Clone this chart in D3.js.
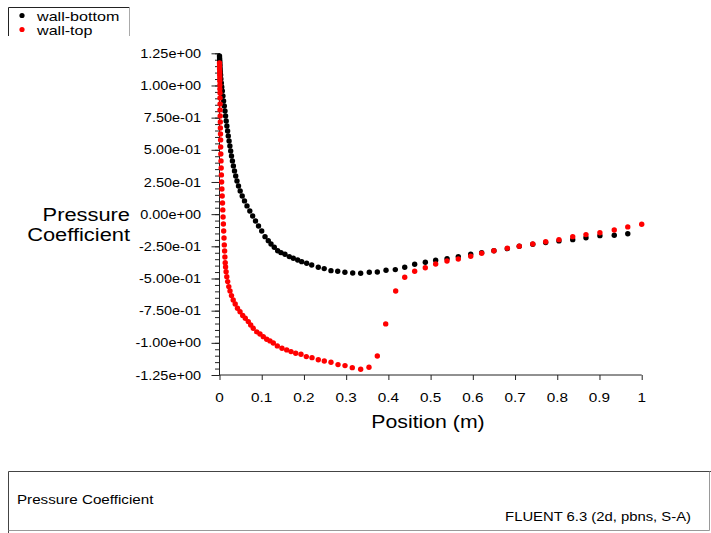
<!DOCTYPE html>
<html>
<head>
<meta charset="utf-8">
<script src="https://cdn.jsdelivr.net/npm/d3@7/dist/d3.min.js"></script>
<style>
  body { margin: 0; background: #fff; }
  svg { display: block; }
  text { font-family: "Liberation Sans", Arial, Helvetica, sans-serif; fill: #000; }
</style>
</head>
<body>
<svg id="chart" width="711" height="533"></svg>
<script>
// Pressure coefficient along the lower and upper walls
const wallBottomX = [0.0000, 0.0002, 0.0005, 0.0007, 0.0009, 0.0012, 0.0017, 0.0021, 0.0026, 0.0033,
  0.0043, 0.0054, 0.0066, 0.0081, 0.0097, 0.0114, 0.0130, 0.0144, 0.0159, 0.0175,
  0.0192, 0.0208, 0.0227, 0.0246, 0.0265, 0.0284, 0.0306, 0.0329, 0.0355, 0.0384,
  0.0414, 0.0450, 0.0490, 0.0538, 0.0592, 0.0651, 0.0718, 0.0786, 0.0853, 0.0924,
  0.1000, 0.1078, 0.1156, 0.1220, 0.1298, 0.1378, 0.1457, 0.1551, 0.1653, 0.1748,
  0.1852, 0.1947, 0.2065, 0.2184, 0.2340, 0.2480, 0.2640, 0.2800, 0.2970, 0.3155,
  0.3344, 0.3548, 0.3738, 0.3944, 0.4164, 0.4387, 0.4623, 0.4875, 0.5120, 0.5390,
  0.5656, 0.5950, 0.6210, 0.6500, 0.6817, 0.7100, 0.7420, 0.7726, 0.8040, 0.8366,
  0.8680, 0.9010, 0.9350, 0.9670];
const wallBottomY = [1.229, 1.214, 1.198, 1.183, 1.167, 1.152, 1.128, 1.105, 1.082, 1.051,
  1.019, 0.988, 0.957, 0.918, 0.879, 0.841, 0.802, 0.763, 0.724, 0.685,
  0.646, 0.608, 0.569, 0.530, 0.491, 0.452, 0.414, 0.375, 0.336, 0.297,
  0.258, 0.219, 0.180, 0.141, 0.103, 0.064, 0.025, -0.014, -0.053, -0.092,
  -0.131, -0.175, -0.206, -0.232, -0.257, -0.284, -0.299, -0.312, -0.330, -0.343,
  -0.356, -0.369, -0.382, -0.395, -0.413, -0.423, -0.439, -0.444, -0.451, -0.457,
  -0.459, -0.451, -0.449, -0.436, -0.431, -0.413, -0.389, -0.374, -0.358, -0.346,
  -0.330, -0.312, -0.299, -0.284, -0.268, -0.249, -0.234, -0.221, -0.208, -0.198,
  -0.183, -0.167, -0.164, -0.152];

const wallTopX = [0.0000, 0.0002, 0.0002, 0.0005, 0.0005, 0.0007, 0.0007, 0.0009, 0.0009, 0.0012,
  0.0012, 0.0014, 0.0014, 0.0017, 0.0019, 0.0021, 0.0024, 0.0026, 0.0028, 0.0031,
  0.0036, 0.0040, 0.0045, 0.0050, 0.0057, 0.0064, 0.0071, 0.0078, 0.0085, 0.0092,
  0.0099, 0.0107, 0.0114, 0.0121, 0.0128, 0.0135, 0.0144, 0.0156, 0.0173, 0.0194,
  0.0220, 0.0249, 0.0284, 0.0325, 0.0372, 0.0426, 0.0486, 0.0550, 0.0611, 0.0682,
  0.0739, 0.0800, 0.0881, 0.0959, 0.1037, 0.1118, 0.1196, 0.1274, 0.1369, 0.1480,
  0.1592, 0.1694, 0.1805, 0.1930, 0.2056, 0.2191, 0.2340, 0.2482, 0.2641, 0.2807,
  0.2973, 0.3145, 0.3344, 0.3541, 0.3738, 0.3937, 0.4173, 0.4387, 0.4623, 0.4874,
  0.5120, 0.5388, 0.5656, 0.5950, 0.6210, 0.6500, 0.6817, 0.7100, 0.7420, 0.7726,
  0.8040, 0.8366, 0.8680, 0.9010, 0.9350, 0.9670, 1.0000];
const wallTopY = [1.175, 1.152, 1.128, 1.105, 1.082, 1.058, 1.035, 1.004, 0.973, 0.942,
  0.903, 0.856, 0.810, 0.763, 0.716, 0.670, 0.623, 0.577, 0.522, 0.468,
  0.414, 0.359, 0.305, 0.250, 0.196, 0.141, 0.087, 0.033, -0.022, -0.076,
  -0.131, -0.185, -0.239, -0.286, -0.333, -0.377, -0.410, -0.447, -0.486, -0.524,
  -0.563, -0.597, -0.633, -0.667, -0.698, -0.731, -0.758, -0.787, -0.809, -0.835,
  -0.861, -0.887, -0.915, -0.931, -0.952, -0.972, -0.985, -1.001, -1.024, -1.042,
  -1.055, -1.068, -1.081, -1.089, -1.107, -1.115, -1.131, -1.141, -1.151, -1.169,
  -1.177, -1.193, -1.205, -1.190, -1.102, -0.853, -0.597, -0.490, -0.444, -0.416,
  -0.387, -0.364, -0.348, -0.327, -0.304, -0.284, -0.265, -0.249, -0.232, -0.214,
  -0.198, -0.175, -0.159, -0.144, -0.123, -0.099, -0.078];

const seriesNames = ["wall-bottom", "wall-top"];
const seriesColors = ["#000000", "#ff0000"];

const xTickValues = [0, 0.1, 0.2, 0.3, 0.4, 0.5, 0.6, 0.7, 0.8, 0.9, 1];
const xTickLabels = ["0", "0.1", "0.2", "0.3", "0.4", "0.5", "0.6", "0.7", "0.8", "0.9", "1"];
const yTickValues = [1.25, 1.0, 0.75, 0.5, 0.25, 0, -0.25, -0.5, -0.75, -1.0, -1.25];
const yTickLabels = ["1.25e+00", "1.00e+00", "7.50e-01", "5.00e-01", "2.50e-01", "0.00e+00",
  "-2.50e-01", "-5.00e-01", "-7.50e-01", "-1.00e+00", "-1.25e+00"];

const xTitle = "Position (m)";
const yTitleLines = ["Pressure", "Coefficient"];
const footerLeft = "Pressure Coefficient";
const footerRight = "FLUENT 6.3 (2d, pbns, S-A)";

// horizontal stretch applied to text (wide Helvetica look)
const SX = 1.15;

const svg = d3.select("#chart");
const x = d3.scaleLinear().domain([0, 1]).range([219.5, 641.7]);
const y = d3.scaleLinear().domain([-1.25, 1.25]).range([375, 53.3]);

function label(g, str, px, py, size, anchor, sx) {
  return g.append("text")
    .attr("transform", `translate(${px},${py}) scale(${sx || SX},1)`)
    .attr("text-anchor", anchor || "start")
    .style("font-size", size + "px")
    .text(str);
}

// y axis with major and minor ticks
const yAxis = svg.append("g").attr("transform", `translate(${x(0)},0)`);
yAxis.call(d3.axisLeft(y).tickValues(d3.range(-1.25, 1.2501, 0.05).map(v => +v.toFixed(2)))
  .tickSize(4.5).tickFormat(""));
yAxis.call(g => g.select(".domain").remove());
yAxis.append("g").call(d3.axisLeft(y).tickValues(yTickValues).tickSize(8).tickFormat(""))
  .call(g => g.select(".domain").remove());
yAxis.selectAll("line").attr("stroke", "#222");
yAxis.append("line").attr("x1", 0).attr("x2", 0).attr("y1", y(1.25)).attr("y2", y(-1.25)).attr("stroke", "#222");
yTickValues.forEach((v, i) => label(svg, yTickLabels[i], 201, y(v) + 4.6, 12.6, "end"));

// x axis
const xAxis = svg.append("g").attr("transform", `translate(0,${y(-1.25)})`);
xAxis.call(d3.axisBottom(x).tickValues(xTickValues).tickSize(5).tickFormat(""));
xAxis.selectAll("line,path").attr("stroke", "#222");
xAxis.select(".domain").attr("d", `M${x(0)},0H${x(1)}`);
xTickValues.forEach((v, i) => label(svg, xTickLabels[i], x(v), 401.5, 13.3, "middle"));

// axis titles
label(svg, xTitle, 428, 428, 18.5, "middle");
label(svg, yTitleLines[0], 130, 220.7, 19, "end");
label(svg, yTitleLines[1], 130, 240.7, 19, "end");

// points: bottom wall first, top wall drawn over it
const series = [
  { xs: wallBottomX, ys: wallBottomY, color: seriesColors[0] },
  { xs: wallTopX, ys: wallTopY, color: seriesColors[1] }
];
series.forEach(s => {
  svg.append("g").selectAll("circle")
    .data(s.xs.map((v, i) => [v, s.ys[i]]))
    .join("circle")
    .attr("cx", d => x(d[0]))
    .attr("cy", d => y(d[1]))
    .attr("r", 2.7)
    .attr("fill", s.color);
});

// legend (open at the bottom)
const lg = svg.append("g");
lg.append("path").attr("d", "M8.5,36V7.5H129.5").attr("fill", "none").attr("stroke", "#222");
lg.append("path").attr("d", "M129.5,7.5V36").attr("fill", "none").attr("stroke", "#aaa");
seriesNames.forEach((n, i) => {
  lg.append("circle").attr("cx", 22).attr("cy", 15.5 + i * 14).attr("r", 2.6).attr("fill", seriesColors[i]);
  label(lg, n, 37, 20.5 + i * 14, 13, "start", 1.24);
});

// footer panel
const ft = svg.append("g");
ft.append("path").attr("d", "M8.5,533V471.5H711").attr("fill", "none").attr("stroke", "#444");
ft.append("path").attr("d", "M709.5,471.5V530.5H8.5").attr("fill", "none").attr("stroke", "#999");
label(ft, footerLeft, 17, 504, 13.2, "start");
label(ft, footerRight, 691, 521, 12.9, "end");
</script>
</body>
</html>
